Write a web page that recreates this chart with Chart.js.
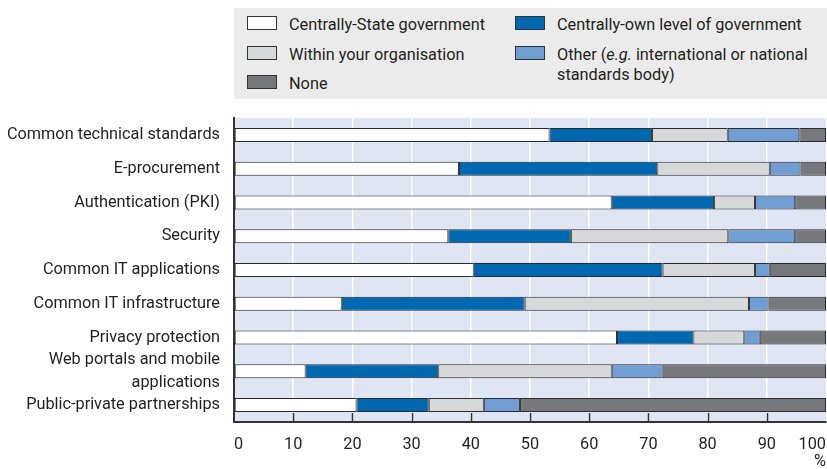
<!DOCTYPE html>
<html>
<head>
<meta charset="utf-8">
<script src="https://cdn.jsdelivr.net/npm/chart.js@4.4.0/dist/chart.umd.min.js"></script>
<style>
  html, body { margin: 0; padding: 0; background: #fff; }
  #wrap { position: relative; width: 827px; height: 469px; font-family: Roboto, "Liberation Sans", sans-serif; color: #231f20; }
  #legend { position: absolute; left: 234px; top: 8px; width: 593px; height: 91px; background: #ebebeb; }
  .item { position: absolute; font-size: 16.3px; line-height: 20px; white-space: nowrap; }
  .sw { position: absolute; box-sizing: border-box; width: 30px; height: 14px; border: 1.5px solid #333; }
  canvas { position: absolute; left: 0; top: 0; }
</style>
</head>
<body>
<div id="wrap">
  <canvas id="chart" width="827" height="469"></canvas>
  <div id="legend"></div>
</div>
<script>
const categories = [
  'Common technical standards',
  'E-procurement',
  'Authentication (PKI)',
  'Security',
  'Common IT applications',
  'Common IT infrastructure',
  'Privacy protection',
  ['Web portals and mobile', 'applications'],
  'Public-private partnerships'
];
const stateGov  = [53.3, 38.0, 63.8, 36.2, 40.5, 18.2, 64.7, 12.1, 20.7];
const ownLevel  = [17.3, 33.5, 17.3, 20.7, 31.9, 30.9, 12.9, 22.4, 12.2];
const withinOrg = [12.8, 19.0, 6.9, 26.6, 15.6, 37.9, 8.6, 29.3, 9.3];
const otherBody = [12.1, 5.2, 6.8, 11.3, 2.5, 3.3, 2.6, 8.6, 6.1];
const noneVals  = [4.5, 4.3, 5.2, 5.2, 9.5, 9.7, 11.2, 27.6, 51.7];
const xTicks = [0, 10, 20, 30, 40, 50, 60, 70, 80, 90, 100];

const series = [
  { label: 'Centrally-State government', data: stateGov, color: '#ffffff' },
  { label: 'Centrally-own level of government', data: ownLevel, color: '#0067b1' },
  { label: 'Within your organisation', data: withinOrg, color: '#d7d8da' },
  { label: 'Other (e.g. international or national standards body)', data: otherBody, color: '#709dd2' },
  { label: 'None', data: noneVals, color: '#77787b' }
];

// legenda em HTML (texto em duas colunas, com itálico)
const legendItems = [
  { s: 0, x: 13, y: 8, html: 'Centrally-State government' },
  { s: 1, x: 281, y: 8, html: 'Centrally-own level of government' },
  { s: 2, x: 13, y: 38, html: 'Within your organisation' },
  { s: 3, x: 281, y: 38, html: 'Other (<i>e.g.</i> international or national<br>standards body)' },
  { s: 4, x: 13, y: 67, html: 'None' }
];
const legendEl = document.getElementById('legend');
legendItems.forEach(it => {
  const sw = document.createElement('div');
  sw.className = 'sw';
  sw.style.left = it.x + 'px';
  sw.style.top = it.y + 'px';
  sw.style.background = series[it.s].color;
  legendEl.appendChild(sw);
  const tx = document.createElement('div');
  tx.className = 'item';
  tx.style.left = (it.x + 42) + 'px';
  tx.style.top = (it.y - 1) + 'px';
  tx.innerHTML = it.html;
  legendEl.appendChild(tx);
});

// fundo azul claro + marcas de escala internas
const plotDecor = {
  id: 'plotDecor',
  beforeDraw(chart) {
    const { ctx, chartArea: a } = chart;
    ctx.save();
    ctx.fillStyle = '#dfe5f3';
    ctx.fillRect(a.left, a.top, a.right - a.left, a.bottom - a.top);
    ctx.restore();
  },
  afterDatasetsDraw(chart) {
    const { ctx, chartArea: a } = chart;
    const x = chart.scales.x;
    ctx.save();
    ctx.strokeStyle = '#333';
    ctx.lineWidth = 1.5;
    xTicks.slice(1, -1).forEach(v => {
      const px = Math.round(x.getPixelForValue(v)) + 0.5;
      ctx.beginPath();
      ctx.moveTo(px, a.bottom);
      ctx.lineTo(px, a.bottom - 9);
      ctx.stroke();
    });
    ctx.restore();
  }
};

const font = { family: 'Roboto, "Liberation Sans", sans-serif', size: 16.3, lineHeight: 1.2 };
const yFont = { family: 'Roboto, "Liberation Sans", sans-serif', size: 16.3, lineHeight: 1.4 };

new Chart(document.getElementById('chart'), {
  type: 'bar',
  data: {
    labels: categories,
    datasets: series.map(s => ({
      label: s.label,
      data: s.data,
      backgroundColor: s.color,
      borderColor: '#2b2b2b',
      borderWidth: 1,
      borderSkipped: false,
      categoryPercentage: 1,
      barPercentage: 0.415
    }))
  },
  options: {
    indexAxis: 'y',
    responsive: false,
    animation: false,
    layout: { padding: { top: 118, right: 1, left: 0, bottom: 0 } },
    plugins: { legend: { display: false }, tooltip: { enabled: false } },
    scales: {
      x: {
        stacked: true,
        min: 0,
        max: 100,
        afterBuildTicks: (scale) => { scale.ticks = xTicks.map(v => ({ value: v })); },
        afterFit: (scale) => {
          scale.height = 47;
          scale.paddingLeft = 0;
          scale.paddingRight = 0;
        },
        grid: {
          color: (c) => (c.tick && (c.tick.value === 0 || c.tick.value === 100)) ? 'rgba(0,0,0,0)' : '#ffffff',
          lineWidth: 1.5,
          drawTicks: false
        },
        border: { color: '#333', width: 2 },
        ticks: { color: '#231f20', font: font, align: 'inner', padding: 13, maxRotation: 0, autoSkip: false },
        title: { display: true, text: '%', align: 'end', color: '#231f20', font: font, padding: { top: 0, bottom: -3 } }
      },
      y: {
        stacked: true,
        afterFit: (scale) => { scale.width = 234; },
        grid: { display: false, drawTicks: false },
        border: { color: '#333', width: 2 },
        ticks: { color: '#231f20', font: yFont, padding: 14, crossAlign: 'near', autoSkip: false }
      }
    }
  },
  plugins: [plotDecor]
});
</script>
</body>
</html>
